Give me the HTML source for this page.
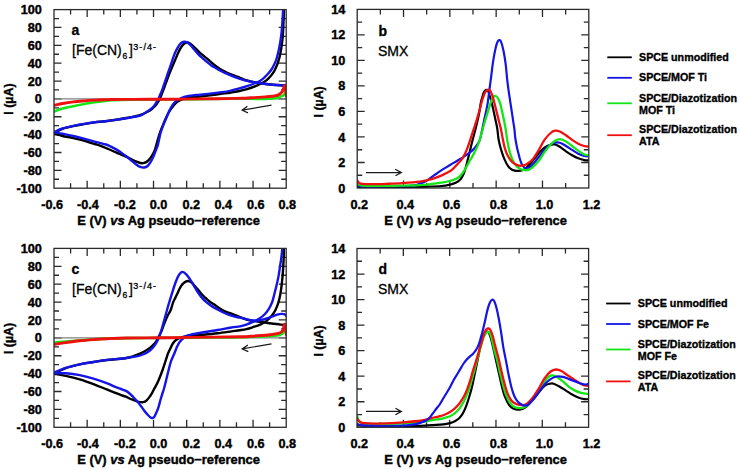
<!DOCTYPE html><html><head><meta charset="utf-8"><style>html,body{margin:0;padding:0;background:#fff;}svg{display:block;}</style></head><body>
<svg width="740" height="470" viewBox="0 0 740 470" style="font-family:'Liberation Sans', sans-serif">
<rect width="740" height="470" fill="#fff"/>
<defs>
<clipPath id="ca"><rect x="54" y="9.6" width="232.2" height="178.6"/></clipPath>
<clipPath id="cb"><rect x="357.2" y="9.4" width="231.6" height="178.6"/></clipPath>
<clipPath id="cc"><rect x="54" y="248.4" width="232.2" height="178.9"/></clipPath>
<clipPath id="cd"><rect x="357" y="248.5" width="231.6" height="178.8"/></clipPath>
</defs>
<path d="M70.59,188.2v-5M70.59,9.6v5M87.17,188.2v-7.5M87.17,9.6v7.5M103.76,188.2v-5M103.76,9.6v5M120.34,188.2v-7.5M120.34,9.6v7.5M136.93,188.2v-5M136.93,9.6v5M153.51,188.2v-7.5M153.51,9.6v7.5M170.1,188.2v-5M170.1,9.6v5M186.69,188.2v-7.5M186.69,9.6v7.5M203.27,188.2v-5M203.27,9.6v5M219.86,188.2v-7.5M219.86,9.6v7.5M236.44,188.2v-5M236.44,9.6v5M253.03,188.2v-7.5M253.03,9.6v7.5M269.61,188.2v-5M269.61,9.6v5M54,18.53h5M286.2,18.53h-5M54,27.46h7.5M286.2,27.46h-7.5M54,36.39h5M286.2,36.39h-5M54,45.32h7.5M286.2,45.32h-7.5M54,54.25h5M286.2,54.25h-5M54,63.18h7.5M286.2,63.18h-7.5M54,72.11h5M286.2,72.11h-5M54,81.04h7.5M286.2,81.04h-7.5M54,89.97h5M286.2,89.97h-5M54,98.9h7.5M286.2,98.9h-7.5M54,107.83h5M286.2,107.83h-5M54,116.76h7.5M286.2,116.76h-7.5M54,125.69h5M286.2,125.69h-5M54,134.62h7.5M286.2,134.62h-7.5M54,143.55h5M286.2,143.55h-5M54,152.48h7.5M286.2,152.48h-7.5M54,161.41h5M286.2,161.41h-5M54,170.34h7.5M286.2,170.34h-7.5M54,179.27h5M286.2,179.27h-5" stroke="#2a2a2a" stroke-width="1.3" fill="none"/>
<path d="M70.59,427.3v-5M70.59,248.4v5M87.17,427.3v-7.5M87.17,248.4v7.5M103.76,427.3v-5M103.76,248.4v5M120.34,427.3v-7.5M120.34,248.4v7.5M136.93,427.3v-5M136.93,248.4v5M153.51,427.3v-7.5M153.51,248.4v7.5M170.1,427.3v-5M170.1,248.4v5M186.69,427.3v-7.5M186.69,248.4v7.5M203.27,427.3v-5M203.27,248.4v5M219.86,427.3v-7.5M219.86,248.4v7.5M236.44,427.3v-5M236.44,248.4v5M253.03,427.3v-7.5M253.03,248.4v7.5M269.61,427.3v-5M269.61,248.4v5M54,257.35h5M286.2,257.35h-5M54,266.29h7.5M286.2,266.29h-7.5M54,275.24h5M286.2,275.24h-5M54,284.18h7.5M286.2,284.18h-7.5M54,293.12h5M286.2,293.12h-5M54,302.07h7.5M286.2,302.07h-7.5M54,311.01h5M286.2,311.01h-5M54,319.96h7.5M286.2,319.96h-7.5M54,328.91h5M286.2,328.91h-5M54,337.85h7.5M286.2,337.85h-7.5M54,346.8h5M286.2,346.8h-5M54,355.74h7.5M286.2,355.74h-7.5M54,364.69h5M286.2,364.69h-5M54,373.63h7.5M286.2,373.63h-7.5M54,382.58h5M286.2,382.58h-5M54,391.52h7.5M286.2,391.52h-7.5M54,400.47h5M286.2,400.47h-5M54,409.41h7.5M286.2,409.41h-7.5M54,418.36h5M286.2,418.36h-5" stroke="#2a2a2a" stroke-width="1.3" fill="none"/>
<path d="M380.36,188v-5M380.36,9.4v5M403.52,188v-7.5M403.52,9.4v7.5M426.68,188v-5M426.68,9.4v5M449.84,188v-7.5M449.84,9.4v7.5M473,188v-5M473,9.4v5M496.16,188v-7.5M496.16,9.4v7.5M519.32,188v-5M519.32,9.4v5M542.48,188v-7.5M542.48,9.4v7.5M565.64,188v-5M565.64,9.4v5M357.2,22.16h5M588.8,22.16h-5M357.2,34.91h7.5M588.8,34.91h-7.5M357.2,47.67h5M588.8,47.67h-5M357.2,60.43h7.5M588.8,60.43h-7.5M357.2,73.19h5M588.8,73.19h-5M357.2,85.94h7.5M588.8,85.94h-7.5M357.2,98.7h5M588.8,98.7h-5M357.2,111.46h7.5M588.8,111.46h-7.5M357.2,124.21h5M588.8,124.21h-5M357.2,136.97h7.5M588.8,136.97h-7.5M357.2,149.73h5M588.8,149.73h-5M357.2,162.49h7.5M588.8,162.49h-7.5M357.2,175.24h5M588.8,175.24h-5" stroke="#2a2a2a" stroke-width="1.3" fill="none"/>
<path d="M380.16,427.3v-5M380.16,248.5v5M403.32,427.3v-7.5M403.32,248.5v7.5M426.48,427.3v-5M426.48,248.5v5M449.64,427.3v-7.5M449.64,248.5v7.5M472.8,427.3v-5M472.8,248.5v5M495.96,427.3v-7.5M495.96,248.5v7.5M519.12,427.3v-5M519.12,248.5v5M542.28,427.3v-7.5M542.28,248.5v7.5M565.44,427.3v-5M565.44,248.5v5M357,261.27h5M588.6,261.27h-5M357,274.04h7.5M588.6,274.04h-7.5M357,286.81h5M588.6,286.81h-5M357,299.59h7.5M588.6,299.59h-7.5M357,312.36h5M588.6,312.36h-5M357,325.13h7.5M588.6,325.13h-7.5M357,337.9h5M588.6,337.9h-5M357,350.67h7.5M588.6,350.67h-7.5M357,363.44h5M588.6,363.44h-5M357,376.21h7.5M588.6,376.21h-7.5M357,388.99h5M588.6,388.99h-5M357,401.76h7.5M588.6,401.76h-7.5M357,414.53h5M588.6,414.53h-5" stroke="#2a2a2a" stroke-width="1.3" fill="none"/>
<line x1="54" y1="98.9" x2="286.2" y2="98.9" stroke="#808080" stroke-width="1.2"/>
<line x1="54" y1="337.85" x2="286.2" y2="337.85" stroke="#808080" stroke-width="1.2"/>
<g clip-path="url(#ca)" fill="none" stroke-width="2.4" stroke-linejoin="round" stroke-linecap="round">
<path d="M53,111.8C53.18,111.75 52.5,112.03 54.1,111.5C55.7,110.97 59.4,109.48 62.6,108.6C65.8,107.72 69.75,106.97 73.3,106.2C76.85,105.43 80.35,104.67 83.9,104C87.45,103.33 91.05,102.72 94.6,102.2C98.15,101.68 102.3,101.22 105.2,100.9C108.1,100.58 107.87,100.5 112,100.3C116.13,100.1 122,99.85 130,99.7C138,99.55 148.33,99.5 160,99.4C171.67,99.3 187.33,99.2 200,99.1C212.67,99 227.67,98.85 236,98.8C244.33,98.75 245.13,98.78 250,98.8C254.87,98.82 261.45,98.97 265.2,98.9C268.95,98.83 270.55,98.6 272.5,98.4C274.45,98.2 275.43,98.07 276.9,97.7C278.37,97.33 280.08,96.68 281.3,96.2C282.52,95.72 283.6,95.4 284.2,94.8C284.8,94.2 284.68,93.07 284.9,92.6C285.12,92.13 285.28,91.93 285.5,92C285.72,92.07 286.08,92.83 286.2,93" stroke="#14e614" stroke-width="2.6"/>
<path d="M54.1,132.8C55.52,132.13 59.4,129.92 62.6,128.8C65.8,127.68 69.75,126.88 73.3,126.1C76.85,125.32 80.35,124.72 83.9,124.1C87.45,123.48 91.05,122.88 94.6,122.4C98.15,121.92 101.63,121.65 105.2,121.2C108.77,120.75 112.53,120.23 116,119.7C119.47,119.17 122.9,118.57 126,118C129.1,117.43 131.93,116.92 134.6,116.3C137.27,115.68 139.85,115.05 142,114.3C144.15,113.55 145.9,112.65 147.5,111.8C149.1,110.95 150.38,110.12 151.6,109.2C152.82,108.28 153.82,107.37 154.8,106.3C155.78,105.23 156.7,103.98 157.5,102.8C158.3,101.62 158.95,100.5 159.6,99.2C160.25,97.9 160.8,96.47 161.4,95C162,93.53 162.58,92.03 163.2,90.4C163.82,88.77 164.43,87.02 165.1,85.2C165.77,83.38 166.48,81.45 167.2,79.5C167.92,77.55 168.67,75.38 169.4,73.5C170.13,71.62 170.88,69.9 171.6,68.2C172.32,66.5 172.98,64.98 173.7,63.3C174.42,61.62 175.17,59.82 175.9,58.1C176.63,56.38 177.37,54.58 178.1,53C178.83,51.42 179.55,49.9 180.3,48.6C181.05,47.3 181.85,46.1 182.6,45.2C183.35,44.3 184.07,43.65 184.8,43.2C185.53,42.75 186.23,42.53 187,42.5C187.77,42.47 188.5,42.52 189.4,43C190.3,43.48 191.33,44.47 192.4,45.4C193.47,46.33 194.7,47.53 195.8,48.6C196.9,49.67 197.88,50.75 199,51.8C200.12,52.85 201.3,53.88 202.5,54.9C203.7,55.92 204.73,56.67 206.2,57.9C207.67,59.13 209.6,60.88 211.3,62.3C213,63.72 214.95,65.3 216.4,66.4C217.85,67.5 218.6,68.03 220,68.9C221.4,69.77 223.3,70.83 224.8,71.6C226.3,72.37 227.3,72.8 229,73.5C230.7,74.2 233.17,75.08 235,75.8C236.83,76.52 238,77.02 240,77.8C242,78.58 244.42,79.72 247,80.5C249.58,81.28 252.67,81.95 255.5,82.5C258.33,83.05 261.15,83.43 264,83.8C266.85,84.17 269.77,84.45 272.6,84.7C275.43,84.95 278.85,85.17 281,85.3C283.15,85.43 284.75,85.47 285.5,85.5" stroke="#000000"/>
<path d="M284.3,0C284.25,1.68 284.13,6.43 284,10.1C283.87,13.77 283.72,17.52 283.5,22C283.28,26.48 283.07,32.67 282.7,37C282.33,41.33 281.78,44.83 281.3,48C280.82,51.17 280.38,53.5 279.8,56C279.22,58.5 278.52,60.92 277.8,63C277.08,65.08 276.33,66.77 275.5,68.5C274.67,70.23 274,71.72 272.8,73.4C271.6,75.08 269.77,77.17 268.3,78.6C266.83,80.03 265.25,81.17 264,82C262.75,82.83 262.22,82.9 260.8,83.6C259.38,84.3 257.8,85.27 255.5,86.2C253.2,87.13 249.83,88.35 247,89.2C244.17,90.05 241.33,90.72 238.5,91.3C235.67,91.88 232.37,92.35 230,92.7C227.63,93.05 227.27,93.02 224.3,93.4C221.33,93.78 216.25,94.48 212.2,95C208.15,95.52 203.7,96.08 200,96.5C196.3,96.92 192.67,97.17 190,97.5C187.33,97.83 185.75,98 184,98.5C182.25,99 180.92,99.67 179.5,100.5C178.08,101.33 176.83,102.2 175.5,103.5C174.17,104.8 172.68,106.72 171.5,108.3C170.32,109.88 169.43,111.13 168.4,113C167.37,114.87 166.27,117.33 165.3,119.5C164.33,121.67 163.5,123.75 162.6,126C161.7,128.25 160.77,130.5 159.9,133C159.03,135.5 158.28,138.07 157.4,141C156.52,143.93 155.63,147.97 154.6,150.6C153.57,153.23 152.35,155.07 151.2,156.8C150.05,158.53 148.87,159.98 147.7,161C146.53,162.02 145.23,162.53 144.2,162.9C143.17,163.27 142.65,163.35 141.5,163.2C140.35,163.05 138.92,162.6 137.3,162C135.68,161.4 133.87,160.57 131.8,159.6C129.73,158.63 127.43,157.35 124.9,156.2C122.37,155.05 119.37,153.9 116.6,152.7C113.83,151.5 111.07,150.18 108.3,149C105.53,147.82 102.28,146.43 100,145.6C97.72,144.77 97.28,144.82 94.6,144C91.92,143.18 87.45,141.68 83.9,140.7C80.35,139.72 76.85,138.88 73.3,138.1C69.75,137.32 65.8,136.72 62.6,136C59.4,135.28 55.52,134.17 54.1,133.8" stroke="#000000"/>
<path d="M54.1,132C55.52,131.42 59.4,129.52 62.6,128.5C65.8,127.48 69.75,126.67 73.3,125.9C76.85,125.13 80.35,124.5 83.9,123.9C87.45,123.3 91.05,122.75 94.6,122.3C98.15,121.85 101.63,121.6 105.2,121.2C108.77,120.8 112.53,120.38 116,119.9C119.47,119.42 122.92,118.82 126,118.3C129.08,117.78 131.92,117.33 134.5,116.8C137.08,116.27 139.33,116.02 141.5,115.1C143.67,114.18 145.88,112.37 147.5,111.3C149.12,110.23 150.08,109.63 151.2,108.7C152.32,107.77 153.33,106.77 154.2,105.7C155.07,104.63 155.72,103.42 156.4,102.3C157.08,101.18 157.68,100.23 158.3,99C158.92,97.77 159.48,96.33 160.1,94.9C160.72,93.47 161.38,92.02 162,90.4C162.62,88.78 163.17,87.02 163.8,85.2C164.43,83.38 165.13,81.45 165.8,79.5C166.47,77.55 167.17,75.37 167.8,73.5C168.43,71.63 169.02,70 169.6,68.3C170.18,66.6 170.7,65.08 171.3,63.3C171.9,61.52 172.52,59.47 173.2,57.6C173.88,55.73 174.65,53.75 175.4,52.1C176.15,50.45 176.95,49 177.7,47.7C178.45,46.4 179.17,45.18 179.9,44.3C180.63,43.42 181.35,42.82 182.1,42.4C182.85,41.98 183.65,41.85 184.4,41.8C185.15,41.75 185.87,41.82 186.6,42.1C187.33,42.38 188.05,42.9 188.8,43.5C189.55,44.1 190.35,44.88 191.1,45.7C191.85,46.52 192.48,47.42 193.3,48.4C194.12,49.38 195.1,50.57 196,51.6C196.9,52.63 197.85,53.72 198.7,54.6C199.55,55.48 199.85,55.78 201.1,56.9C202.35,58.02 204.5,59.88 206.2,61.3C207.9,62.72 209.6,64.22 211.3,65.4C213,66.58 214.95,67.55 216.4,68.4C217.85,69.25 218.6,69.75 220,70.5C221.4,71.25 223.13,72.13 224.8,72.9C226.47,73.67 227.72,74.2 230,75.1C232.28,76 235.67,77.33 238.5,78.3C241.33,79.27 244.17,80.18 247,80.9C249.83,81.62 252.67,82.12 255.5,82.6C258.33,83.08 261.15,83.45 264,83.8C266.85,84.15 269.77,84.45 272.6,84.7C275.43,84.95 278.85,85.17 281,85.3C283.15,85.43 284.75,85.47 285.5,85.5" stroke="#1414e6"/>
<path d="M283.4,0C283.35,1.68 283.27,6.43 283.1,10.1C282.93,13.77 282.68,18.03 282.4,22C282.12,25.97 281.83,30.07 281.4,33.9C280.97,37.73 280.32,41.98 279.8,45C279.28,48.02 278.85,49.67 278.3,52C277.75,54.33 277.18,56.92 276.5,59C275.82,61.08 275.03,62.75 274.2,64.5C273.37,66.25 272.53,67.95 271.5,69.5C270.47,71.05 269.25,72.42 268,73.8C266.75,75.18 265.37,76.62 264,77.8C262.63,78.98 261.22,80.03 259.8,80.9C258.38,81.77 257.63,82.12 255.5,83C253.37,83.88 249.83,85.25 247,86.2C244.17,87.15 241.33,87.93 238.5,88.7C235.67,89.47 232.37,90.27 230,90.8C227.63,91.33 227.27,91.47 224.3,91.9C221.33,92.33 216.25,92.93 212.2,93.4C208.15,93.87 203.27,94.37 200,94.7C196.73,95.03 194.9,95.12 192.6,95.4C190.3,95.68 187.98,95.98 186.2,96.4C184.42,96.82 183.15,97.37 181.9,97.9C180.65,98.43 179.72,99.02 178.7,99.6C177.68,100.18 176.78,100.57 175.8,101.4C174.82,102.23 173.8,103.2 172.8,104.6C171.8,106 170.93,107.45 169.8,109.8C168.67,112.15 167.08,116.15 166,118.7C164.92,121.25 164.2,122.78 163.3,125.1C162.4,127.42 161.27,130.37 160.6,132.6C159.93,134.83 159.75,136.47 159.3,138.5C158.85,140.53 158.47,142.85 157.9,144.8C157.33,146.75 156.68,148.17 155.9,150.2C155.12,152.23 154.12,154.97 153.2,157C152.28,159.03 151.32,160.9 150.4,162.4C149.48,163.9 148.72,165.15 147.7,166C146.68,166.85 145.55,167.35 144.3,167.5C143.05,167.65 141.55,167.4 140.2,166.9C138.85,166.4 137.55,165.47 136.2,164.5C134.85,163.53 133.47,162.25 132.1,161.1C130.73,159.95 129.2,158.57 128,157.6C126.8,156.63 126.8,156.63 124.9,155.3C123,153.97 119.37,151.27 116.6,149.6C113.83,147.93 110.55,146.27 108.3,145.3C106.05,144.33 105.38,144.42 103.1,143.8C100.82,143.18 97.8,142.47 94.6,141.6C91.4,140.73 87.45,139.53 83.9,138.6C80.35,137.67 76.85,136.8 73.3,136C69.75,135.2 65.8,134.43 62.6,133.8C59.4,133.17 55.52,132.47 54.1,132.2" stroke="#1414e6"/>
<path d="M53,105.5C53.18,105.47 52.5,105.63 54.1,105.3C55.7,104.97 59.4,104.07 62.6,103.5C65.8,102.93 69.75,102.33 73.3,101.9C76.85,101.47 80.35,101.2 83.9,100.9C87.45,100.6 91.05,100.3 94.6,100.1C98.15,99.9 102.3,99.8 105.2,99.7C108.1,99.6 107.87,99.55 112,99.5C116.13,99.45 123.67,99.43 130,99.4C136.33,99.37 142.5,99.33 150,99.3C157.5,99.27 166.67,99.27 175,99.2C183.33,99.13 189.83,99.03 200,98.9C210.17,98.77 228.78,98.52 236,98.4C243.22,98.28 240.87,98.3 243.3,98.2C245.73,98.1 248.17,97.93 250.6,97.8C253.03,97.67 255.47,97.55 257.9,97.4C260.33,97.25 262.77,97.1 265.2,96.9C267.63,96.7 270.55,96.43 272.5,96.2C274.45,95.97 275.68,95.87 276.9,95.5C278.12,95.13 278.95,94.62 279.8,94C280.65,93.38 281.4,92.65 282,91.8C282.6,90.95 282.98,89.93 283.4,88.9C283.82,87.87 284.22,86.15 284.5,85.6C284.78,85.05 284.9,84.9 285.1,85.6C285.3,86.3 285.52,88.4 285.7,89.8C285.88,91.2 286.08,92.97 286.2,94C286.32,95.03 286.37,95.67 286.4,96" stroke="#f01010" stroke-width="2.9"/>
</g>
<g clip-path="url(#cc)" fill="none" stroke-width="2.4" stroke-linejoin="round" stroke-linecap="round">
<path d="M53,342.8C53.18,342.77 51.97,342.8 54.1,342.6C56.23,342.4 61.53,341.95 65.8,341.6C70.07,341.25 75.08,340.87 79.7,340.5C84.32,340.13 88.9,339.72 93.5,339.4C98.1,339.08 101.72,338.82 107.3,338.6C112.88,338.38 118.22,338.22 127,338.1C135.78,337.98 149.5,337.98 160,337.9C170.5,337.82 176.67,337.72 190,337.6C203.33,337.48 226.35,337.48 240,337.2C253.65,336.92 265.17,336.3 271.9,335.9C278.63,335.5 278.45,335.35 280.4,334.8C282.35,334.25 282.88,333.33 283.6,332.6C284.32,331.87 284.38,330.85 284.7,330.4C285.02,329.95 285.23,329.63 285.5,329.9C285.77,330.17 286.17,331.65 286.3,332" stroke="#14e614" stroke-width="2.6"/>
<path d="M54.1,373.6C56.05,372.68 61.53,369.63 65.8,368.1C70.07,366.57 75.08,365.42 79.7,364.4C84.32,363.38 88.9,362.73 93.5,362C98.1,361.27 102.05,360.63 107.3,360C112.55,359.37 120.55,358.87 125,358.2C129.45,357.53 131.5,356.77 134,356C136.5,355.23 137.93,354.57 140,353.6C142.07,352.63 144.45,351.38 146.4,350.2C148.35,349.02 150.1,347.92 151.7,346.5C153.3,345.08 154.85,343.3 156,341.7C157.15,340.1 157.72,338.58 158.6,336.9C159.48,335.22 160.32,333.9 161.3,331.6C162.28,329.3 163.43,325.77 164.5,323.1C165.57,320.43 166.67,317.78 167.7,315.6C168.73,313.42 169.8,312.2 170.7,310C171.6,307.8 172.3,304.48 173.1,302.4C173.9,300.32 174.77,299.02 175.5,297.5C176.23,295.98 176.87,294.67 177.5,293.3C178.13,291.93 178.68,290.53 179.3,289.3C179.92,288.07 180.58,286.85 181.2,285.9C181.82,284.95 182.38,284.23 183,283.6C183.62,282.97 184.08,282.53 184.9,282.1C185.72,281.67 187.03,281.08 187.9,281C188.77,280.92 189.38,281.27 190.1,281.6C190.82,281.93 191.45,282.3 192.2,283C192.95,283.7 193.78,284.87 194.6,285.8C195.42,286.73 196.25,287.62 197.1,288.6C197.95,289.58 198.85,290.67 199.7,291.7C200.55,292.73 201.35,293.87 202.2,294.8C203.05,295.73 203.95,296.5 204.8,297.3C205.65,298.1 206.45,298.87 207.3,299.6C208.15,300.33 209.05,301.05 209.9,301.7C210.75,302.35 211.55,302.95 212.4,303.5C213.25,304.05 213.98,304.32 215,305C216.02,305.68 216.92,306.57 218.5,307.6C220.08,308.63 222.35,310.18 224.5,311.2C226.65,312.22 228.82,312.7 231.4,313.7C233.98,314.7 237.5,316.23 240,317.2C242.5,318.17 244.27,318.88 246.4,319.5C248.53,320.12 250.32,320.5 252.8,320.9C255.28,321.3 258.82,321.55 261.3,321.9C263.78,322.25 265.58,322.68 267.7,323C269.82,323.32 271.88,323.53 274,323.8C276.12,324.07 278.45,324.42 280.4,324.6C282.35,324.78 284.6,324.83 285.7,324.9C286.8,324.97 286.78,324.98 287,325" stroke="#000000"/>
<path d="M284.1,240C284.07,241.4 283.97,245.43 283.9,248.4C283.83,251.37 283.82,254.65 283.7,257.8C283.58,260.95 283.4,264.12 283.2,267.3C283,270.48 282.77,273.88 282.5,276.9C282.23,279.92 281.85,283.22 281.6,285.4C281.35,287.58 281.28,288.17 281,290C280.72,291.83 280.35,294.27 279.9,296.4C279.45,298.53 279.02,300.58 278.3,302.8C277.58,305.02 276.67,307.58 275.6,309.7C274.53,311.82 273.4,313.63 271.9,315.5C270.4,317.37 268.55,319.38 266.6,320.9C264.65,322.42 262.5,323.55 260.2,324.6C257.9,325.65 255.1,326.45 252.8,327.2C250.5,327.95 248.53,328.6 246.4,329.1C244.27,329.6 242.5,329.82 240,330.2C237.5,330.58 235.13,330.88 231.4,331.4C227.67,331.92 222.2,332.75 217.6,333.3C213,333.85 208.4,334.28 203.8,334.7C199.2,335.12 193.02,335.52 190,335.8C186.98,336.08 187.12,336.13 185.7,336.4C184.28,336.67 183,336.87 181.5,337.4C180,337.93 178.12,338.62 176.7,339.6C175.28,340.58 174.08,341.77 173,343.3C171.92,344.83 171.03,347.1 170.2,348.8C169.37,350.5 168.7,351.7 168,353.5C167.3,355.3 166.93,356.77 166,359.6C165.07,362.43 163.65,367.02 162.4,370.5C161.15,373.98 159.52,378.08 158.5,380.5C157.48,382.92 157.02,383.62 156.3,385C155.58,386.38 154.92,387.45 154.2,388.8C153.48,390.15 152.83,391.67 152,393.1C151.17,394.53 150.15,396.13 149.2,397.4C148.25,398.67 147.27,399.92 146.3,400.7C145.33,401.48 144.37,401.87 143.4,402.1C142.43,402.33 141.58,402.22 140.5,402.1C139.42,401.98 138.12,401.77 136.9,401.4C135.68,401.03 134.42,400.38 133.2,399.9C131.98,399.42 130.8,399.03 129.6,398.5C128.4,397.97 127.4,397.25 126,396.7C124.6,396.15 124.32,396.37 121.2,395.2C118.08,394.03 111.92,391.55 107.3,389.7C102.68,387.85 98.1,385.83 93.5,384.1C88.9,382.37 84.32,380.68 79.7,379.3C75.08,377.92 70.07,376.73 65.8,375.8C61.53,374.87 56.05,374.05 54.1,373.7" stroke="#000000"/>
<path d="M54.1,372.6C56.05,371.82 61.53,369.28 65.8,367.9C70.07,366.52 75.08,365.28 79.7,364.3C84.32,363.32 88.9,362.73 93.5,362C98.1,361.27 102.05,360.52 107.3,359.9C112.55,359.28 119.92,358.92 125,358.3C130.08,357.68 134.58,356.93 137.8,356.2C141.02,355.47 142.33,354.82 144.3,353.9C146.27,352.98 148.02,351.93 149.6,350.7C151.18,349.47 152.57,348 153.8,346.5C155.03,345 156.12,343.3 157,341.7C157.88,340.1 158.38,338.77 159.1,336.9C159.82,335.03 160.58,332.8 161.3,330.5C162.02,328.2 162.7,325.58 163.4,323.1C164.1,320.62 164.9,317.78 165.5,315.6C166.1,313.42 166.38,312.2 167,310C167.62,307.8 168.43,304.95 169.2,302.4C169.97,299.85 170.8,297.27 171.6,294.7C172.4,292.13 173.2,289.4 174,287C174.8,284.6 175.6,282.28 176.4,280.3C177.2,278.32 178,276.43 178.8,275.1C179.6,273.77 180.6,272.83 181.2,272.3C181.8,271.77 182,271.92 182.4,271.9C182.8,271.88 183,271.83 183.6,272.2C184.2,272.57 185.2,273.3 186,274.1C186.8,274.9 187.52,275.8 188.4,277C189.28,278.2 190.35,279.78 191.3,281.3C192.25,282.82 192.93,284.15 194.1,286.1C195.27,288.05 196.68,290.7 198.3,293C199.92,295.3 201.73,297.83 203.8,299.9C205.87,301.97 208.4,303.8 210.7,305.4C213,307 215.3,308.23 217.6,309.5C219.9,310.77 222.2,311.97 224.5,313C226.8,314.03 228.82,314.92 231.4,315.7C233.98,316.48 237.68,317.17 240,317.7C242.32,318.23 243.53,318.5 245.3,318.9C247.07,319.3 248.82,319.82 250.6,320.1C252.38,320.38 254.22,320.62 256,320.6C257.78,320.58 259.53,320.35 261.3,320C263.07,319.65 264.83,319.07 266.6,318.5C268.37,317.93 270.13,317.23 271.9,316.6C273.67,315.97 275.6,315.15 277.2,314.7C278.8,314.25 280.25,313.97 281.5,313.9C282.75,313.83 283.95,314.03 284.7,314.3C285.45,314.57 285.62,315.05 286,315.5C286.38,315.95 286.83,316.75 287,317" stroke="#1414e6"/>
<path d="M282.5,240C282.47,241.4 282.5,245.43 282.3,248.4C282.1,251.37 281.7,254.65 281.3,257.8C280.9,260.95 280.38,264.12 279.9,267.3C279.42,270.48 278.97,273.88 278.4,276.9C277.83,279.92 277.07,282.97 276.5,285.4C275.93,287.83 275.5,289.48 275,291.5C274.5,293.52 274.02,295.62 273.5,297.5C272.98,299.38 272.7,300.87 271.9,302.8C271.1,304.73 269.93,307.15 268.7,309.1C267.47,311.05 266.1,312.9 264.5,314.5C262.9,316.1 261.05,317.47 259.1,318.7C257.15,319.93 254.92,320.92 252.8,321.9C250.68,322.88 248.53,323.85 246.4,324.6C244.27,325.35 242.5,325.92 240,326.4C237.5,326.88 235.13,326.9 231.4,327.5C227.67,328.1 222.2,329.2 217.6,330C213,330.8 208.4,331.48 203.8,332.3C199.2,333.12 192.83,334.3 190,334.9C187.17,335.5 187.87,335.38 186.8,335.9C185.73,336.42 184.75,337.03 183.6,338C182.45,338.97 180.93,340.37 179.9,341.7C178.87,343.03 178.13,344.53 177.4,346C176.67,347.47 176.12,349 175.5,350.5C174.88,352 174.53,352.95 173.7,355C172.87,357.05 171.57,359.38 170.5,362.8C169.43,366.22 168.37,371.25 167.3,375.5C166.23,379.75 164.95,385.18 164.1,388.3C163.25,391.42 162.83,392.17 162.2,394.2C161.57,396.23 160.9,398.4 160.3,400.5C159.7,402.6 159.25,404.78 158.6,406.8C157.95,408.82 157.13,410.92 156.4,412.6C155.67,414.28 154.9,416 154.2,416.9C153.5,417.8 152.8,417.88 152.2,418C151.6,418.12 151.35,418.13 150.6,417.6C149.85,417.07 148.78,416 147.7,414.8C146.62,413.6 145.3,411.97 144.1,410.4C142.9,408.83 141.7,406.97 140.5,405.4C139.3,403.83 138.12,402.4 136.9,401C135.68,399.6 134.42,398.25 133.2,397C131.98,395.75 130.8,394.52 129.6,393.5C128.4,392.48 127.43,391.65 126,390.9C124.57,390.15 122.7,389.62 121,389C119.3,388.38 118.08,388.13 115.8,387.2C113.52,386.27 111.02,384.83 107.3,383.4C103.58,381.97 98.1,379.98 93.5,378.6C88.9,377.22 84.32,375.98 79.7,375.1C75.08,374.22 70.07,373.6 65.8,373.3C61.53,373 56.05,373.3 54.1,373.3" stroke="#1414e6"/>
<path d="M53,344.6C53.18,344.57 51.97,344.73 54.1,344.4C56.23,344.07 61.53,343.2 65.8,342.6C70.07,342 75.08,341.3 79.7,340.8C84.32,340.3 88.9,339.95 93.5,339.6C98.1,339.25 101.72,338.97 107.3,338.7C112.88,338.43 118.22,338.15 127,338C135.78,337.85 149.5,337.9 160,337.8C170.5,337.7 176.67,337.58 190,337.4C203.33,337.22 229.9,336.88 240,336.7C250.1,336.52 247.05,336.5 250.6,336.3C254.15,336.1 257.75,335.8 261.3,335.5C264.85,335.2 269.07,334.85 271.9,334.5C274.73,334.15 276.7,333.82 278.3,333.4C279.9,332.98 280.7,332.67 281.5,332C282.3,331.33 282.72,330.28 283.1,329.4C283.48,328.52 283.57,327.57 283.8,326.7C284.03,325.83 284.27,324.28 284.5,324.2C284.73,324.12 285,325.17 285.2,326.2C285.4,327.23 285.52,329.17 285.7,330.4C285.88,331.63 286.17,332.83 286.3,333.6C286.43,334.37 286.47,334.77 286.5,335" stroke="#f01010" stroke-width="2.9"/>
</g>
<g clip-path="url(#cb)" fill="none" stroke-width="2.4" stroke-linejoin="round" stroke-linecap="round">
<path d="M357.2,187.2C358.02,187.27 359.28,187.55 362.1,187.6C364.92,187.65 365.72,187.55 374.1,187.5C382.48,187.45 404.75,187.4 412.4,187.3C420.05,187.2 415.18,187.12 420,186.9C424.82,186.68 436.33,186.37 441.3,186C446.27,185.63 447.32,185.27 449.8,184.7C452.28,184.13 454.43,183.48 456.2,182.6C457.97,181.72 459.17,180.83 460.4,179.4C461.63,177.97 462.72,175.95 463.6,174C464.48,172.05 464.98,170.18 465.7,167.7C466.42,165.22 467.18,161.95 467.9,159.1C468.62,156.25 469.3,153.43 470,150.6C470.7,147.77 471.4,144.87 472.1,142.1C472.8,139.33 473.53,136.55 474.2,134C474.87,131.45 475.42,129.6 476.1,126.8C476.78,124 477.68,120.08 478.3,117.2C478.92,114.32 479.4,111.78 479.8,109.5C480.2,107.22 480.4,105.17 480.7,103.5C481,101.83 481.28,100.75 481.6,99.5C481.92,98.25 482.27,97.08 482.6,96C482.93,94.92 483.22,93.88 483.6,93C483.98,92.12 484.43,91.22 484.9,90.7C485.37,90.18 485.88,89.9 486.4,89.9C486.92,89.9 487.47,89.77 488,90.7C488.53,91.63 489.15,94.13 489.6,95.5C490.05,96.87 490.37,97.77 490.7,98.9C491.03,100.03 491.2,100.67 491.6,102.3C492,103.93 492.58,106.38 493.1,108.7C493.62,111.02 494.17,113.72 494.7,116.2C495.23,118.68 495.85,121.38 496.3,123.6C496.75,125.82 497,126.77 497.4,129.5C497.8,132.23 498.05,136.52 498.7,140C499.35,143.48 500.33,147.17 501.3,150.4C502.27,153.63 503.33,156.73 504.5,159.4C505.67,162.07 507.03,164.67 508.3,166.4C509.57,168.13 510.82,169.05 512.1,169.8C513.38,170.55 514.6,170.77 516,170.9C517.4,171.03 519.02,170.88 520.5,170.6C521.98,170.32 523.65,169.97 524.9,169.2C526.15,168.43 526.77,167.3 528,166C529.23,164.7 530.57,163.45 532.3,161.4C534.03,159.35 536.37,156 538.4,153.7C540.43,151.4 542.47,149.08 544.5,147.6C546.53,146.12 548.82,145.32 550.6,144.8C552.38,144.28 553.67,144.17 555.2,144.5C556.73,144.83 558,145.65 559.8,146.8C561.6,147.95 563.95,150 566,151.4C568.05,152.8 570.07,154.05 572.1,155.2C574.13,156.35 576.17,157.48 578.2,158.3C580.23,159.12 582.5,159.77 584.3,160.1C586.1,160.43 588.22,160.27 589,160.3" stroke="#000000" stroke-width="2.2"/>
<path d="M357.2,185.1C357.75,185.32 358.33,186.12 360.5,186.4C362.67,186.68 366.33,186.77 370.2,186.8C374.07,186.83 376.67,186.78 383.7,186.6C390.73,186.42 406.35,186.2 412.4,185.7C418.45,185.2 417.85,184.3 420,183.6C422.15,182.9 423.53,182.47 425.3,181.5C427.07,180.53 428.82,179.05 430.6,177.8C432.38,176.55 434.22,175.25 436,174C437.78,172.75 439.53,171.45 441.3,170.3C443.07,169.15 444.83,168.17 446.6,167.1C448.37,166.03 450.13,164.97 451.9,163.9C453.67,162.83 455.42,161.75 457.2,160.7C458.98,159.65 460.82,158.75 462.6,157.6C464.38,156.45 466.13,155.13 467.9,153.8C469.67,152.47 471.62,151.18 473.2,149.6C474.78,148.02 476.27,145.98 477.4,144.3C478.53,142.62 479.23,141.8 480,139.5C480.77,137.2 481.32,133.68 482,130.5C482.68,127.32 483.4,123.67 484.1,120.4C484.8,117.13 485.58,113.92 486.2,110.9C486.82,107.88 487.35,105.15 487.8,102.3C488.25,99.45 488.53,96.63 488.9,93.8C489.27,90.97 489.65,87.93 490,85.3C490.35,82.67 490.47,82.07 491,78C491.53,73.93 492.4,66.02 493.2,60.9C494,55.78 495.03,50.57 495.8,47.3C496.57,44.03 497.23,42.5 497.8,41.3C498.37,40.1 498.68,40.1 499.2,40.1C499.72,40.1 500.18,39.53 500.9,41.3C501.62,43.07 502.7,46.87 503.5,50.7C504.3,54.53 505.08,59.47 505.7,64.3C506.32,69.13 506.72,75.32 507.2,79.7C507.68,84.08 508.1,87 508.6,90.6C509.1,94.2 509.67,97.75 510.2,101.3C510.73,104.85 511.27,108.35 511.8,111.9C512.33,115.45 512.97,119.75 513.4,122.6C513.83,125.45 514.08,126.43 514.4,129C514.72,131.57 514.87,134.92 515.3,138C515.73,141.08 516.52,145.08 517,147.5C517.48,149.92 517.78,150.83 518.2,152.5C518.62,154.17 519.02,155.82 519.5,157.5C519.98,159.18 520.45,161.08 521.1,162.6C521.75,164.12 522.58,165.65 523.4,166.6C524.22,167.55 525.03,168.15 526,168.3C526.97,168.45 527.65,168.65 529.2,167.5C530.75,166.35 533.27,163.7 535.3,161.4C537.33,159.1 539.35,156.13 541.4,153.7C543.45,151.27 545.55,148.58 547.6,146.8C549.65,145.02 551.67,143.68 553.7,143C555.73,142.32 557.75,142.2 559.8,142.7C561.85,143.2 563.95,144.8 566,146C568.05,147.2 570.07,148.62 572.1,149.9C574.13,151.18 576.17,152.68 578.2,153.7C580.23,154.72 582.5,155.53 584.3,156C586.1,156.47 588.22,156.42 589,156.5" stroke="#1414e6" stroke-width="2.2"/>
<path d="M357.2,183.5C357.75,183.77 359,184.72 360.5,185.1C362,185.48 360.73,185.68 366.2,185.8C371.67,185.92 384.33,185.9 393.3,185.8C402.27,185.7 413.78,185.48 420,185.2C426.22,184.92 427.05,184.53 430.6,184.1C434.15,183.67 438.1,183.12 441.3,182.6C444.5,182.08 447.32,181.63 449.8,181C452.28,180.37 454.43,179.7 456.2,178.8C457.97,177.9 458.98,177.1 460.4,175.6C461.82,174.1 463.28,172.02 464.7,169.8C466.12,167.58 467.48,164.78 468.9,162.3C470.32,159.82 471.78,157.55 473.2,154.9C474.62,152.25 476.33,148.88 477.4,146.4C478.47,143.92 478.75,142.73 479.6,140C480.45,137.27 481.57,133.27 482.5,130C483.43,126.73 484.22,123.77 485.2,120.4C486.18,117.03 487.33,113.17 488.4,109.8C489.47,106.43 490.72,102.4 491.6,100.2C492.48,98 493,97.3 493.7,96.6C494.4,95.9 495.1,95.75 495.8,96C496.5,96.25 497.18,96.87 497.9,98.1C498.62,99.33 499.47,101.45 500.1,103.4C500.73,105.35 501.17,107.5 501.7,109.8C502.23,112.1 502.77,114.72 503.3,117.2C503.83,119.68 504.48,122.53 504.9,124.7C505.32,126.87 505.4,127.57 505.8,130.2C506.2,132.83 506.72,137.13 507.3,140.5C507.88,143.87 508.5,147.32 509.3,150.4C510.1,153.48 510.98,156.48 512.1,159C513.22,161.52 514.62,163.85 516,165.5C517.38,167.15 518.9,168.12 520.4,168.9C521.9,169.68 523.57,170.07 525,170.2C526.43,170.33 527.78,170.15 529,169.7C530.22,169.25 530.73,168.88 532.3,167.5C533.87,166.12 536.37,163.95 538.4,161.4C540.43,158.85 542.47,155.02 544.5,152.2C546.53,149.38 548.82,146.42 550.6,144.5C552.38,142.58 553.67,141.6 555.2,140.7C556.73,139.8 558,138.98 559.8,139.1C561.6,139.22 563.95,140.25 566,141.4C568.05,142.55 570.07,144.47 572.1,146C574.13,147.53 576.17,149.18 578.2,150.6C580.23,152.02 582.5,153.68 584.3,154.5C586.1,155.32 588.22,155.33 589,155.5" stroke="#14e614" stroke-width="2.3"/>
<path d="M357.2,180.3C357.48,180.7 358.08,182.1 358.9,182.7C359.72,183.3 360.22,183.65 362.1,183.9C363.98,184.15 366.15,184.22 370.2,184.2C374.25,184.18 380.98,183.98 386.4,183.8C391.82,183.62 397.1,183.47 402.7,183.1C408.3,182.73 415.35,182.22 420,181.6C424.65,180.98 427.05,180.4 430.6,179.4C434.15,178.4 438.63,176.68 441.3,175.6C443.97,174.52 444.83,173.87 446.6,172.9C448.37,171.93 450.13,171.2 451.9,169.8C453.67,168.4 455.42,166.45 457.2,164.5C458.98,162.55 461,160.58 462.6,158.1C464.2,155.62 465.57,152.53 466.8,149.6C468.03,146.67 469.07,143.27 470,140.5C470.93,137.73 471.65,135.28 472.4,133C473.15,130.72 473.7,129.25 474.5,126.8C475.3,124.35 476.3,121.32 477.2,118.3C478.1,115.28 479.02,111.9 479.9,108.7C480.78,105.5 481.62,101.85 482.5,99.1C483.38,96.35 484.32,93.75 485.2,92.2C486.08,90.65 487,90.07 487.8,89.8C488.6,89.53 489.28,89.75 490,90.6C490.72,91.45 491.48,93.3 492.1,94.9C492.72,96.5 493.17,98.25 493.7,100.2C494.23,102.15 494.77,104.47 495.3,106.6C495.83,108.73 496.37,110.87 496.9,113C497.43,115.13 497.97,117.28 498.5,119.4C499.03,121.52 499.67,123.93 500.1,125.7C500.53,127.47 500.65,127.78 501.1,130C501.55,132.22 502.13,135.82 502.8,139C503.47,142.18 504.18,146.13 505.1,149.1C506.02,152.07 507.13,154.67 508.3,156.8C509.47,158.93 510.62,160.52 512.1,161.9C513.58,163.28 515.63,164.47 517.2,165.1C518.77,165.73 520.02,165.82 521.5,165.7C522.98,165.58 524.3,165.38 526.1,164.4C527.9,163.42 530.25,162.1 532.3,159.8C534.35,157.5 536.37,153.92 538.4,150.6C540.43,147.28 542.47,142.83 544.5,139.9C546.53,136.97 548.82,134.53 550.6,133C552.38,131.47 553.67,130.95 555.2,130.7C556.73,130.45 558,130.73 559.8,131.5C561.6,132.27 563.95,133.9 566,135.3C568.05,136.7 570.07,138.5 572.1,139.9C574.13,141.3 576.17,142.68 578.2,143.7C580.23,144.72 582.5,145.48 584.3,146C586.1,146.52 588.22,146.67 589,146.8" stroke="#f01010" stroke-width="2.3"/>
</g>
<g clip-path="url(#cd)" fill="none" stroke-width="2.4" stroke-linejoin="round" stroke-linecap="round">
<path d="M357.2,425.4C362.92,425.57 381.73,426.3 391.5,426.4C401.27,426.5 409.72,426.17 415.8,426C421.88,425.83 423.97,425.62 428,425.4C432.03,425.18 437.17,424.9 440,424.7C442.83,424.5 443.33,424.47 445,424.2C446.67,423.93 448.35,423.6 450,423.1C451.65,422.6 453.47,421.92 454.9,421.2C456.33,420.48 457.47,419.82 458.6,418.8C459.73,417.78 460.77,416.45 461.7,415.1C462.63,413.75 463.37,412.45 464.2,410.7C465.03,408.95 465.88,406.85 466.7,404.6C467.52,402.35 468.28,399.88 469.1,397.2C469.92,394.52 470.87,391.38 471.6,388.5C472.33,385.62 472.88,382.78 473.5,379.9C474.12,377.02 474.68,374.18 475.3,371.2C475.92,368.22 476.58,365.03 477.2,362C477.82,358.97 478.37,356.08 479,353C479.63,349.92 480.33,346.25 481,343.5C481.67,340.75 482.33,338.33 483,336.5C483.67,334.67 484.37,333.37 485,332.5C485.63,331.63 486.2,331.3 486.8,331.3C487.4,331.3 487.98,331.55 488.6,332.5C489.22,333.45 489.9,335.17 490.5,337C491.1,338.83 491.65,341.25 492.2,343.5C492.75,345.75 493.22,347.93 493.8,350.5C494.38,353.07 494.88,355.27 495.7,358.9C496.52,362.53 497.7,367.83 498.7,372.3C499.7,376.77 500.7,381.72 501.7,385.7C502.7,389.68 503.45,392.97 504.7,396.2C505.95,399.43 507.72,403 509.2,405.1C510.68,407.2 511.87,408.05 513.6,408.8C515.33,409.55 517.87,409.68 519.6,409.6C521.33,409.52 522.68,408.93 524,408.3C525.32,407.67 526.12,407.08 527.5,405.8C528.88,404.52 530.48,402.75 532.3,400.6C534.12,398.45 536.37,395.33 538.4,392.9C540.43,390.47 542.58,387.53 544.5,386C546.42,384.47 548.37,384.08 549.9,383.7C551.43,383.32 552.05,383.18 553.7,383.7C555.35,384.22 557.75,385.65 559.8,386.8C561.85,387.95 563.95,389.32 566,390.6C568.05,391.88 570.07,393.35 572.1,394.5C574.13,395.65 576.17,396.73 578.2,397.5C580.23,398.27 582.5,398.82 584.3,399.1C586.1,399.38 588.22,399.18 589,399.2" stroke="#000000" stroke-width="2.2"/>
<path d="M357.2,416.3C357.65,417.28 358.23,420.95 359.9,422.2C361.57,423.45 361.93,423.53 367.2,423.8C372.47,424.07 383.4,424.02 391.5,423.8C399.6,423.58 408.72,423.15 415.8,422.5C422.88,421.85 429.97,420.48 434,419.9C438.03,419.32 438.17,419.35 440,419C441.83,418.65 443.33,418.25 445,417.8C446.67,417.35 448.35,417.07 450,416.3C451.65,415.53 453.47,414.33 454.9,413.2C456.33,412.07 457.47,410.83 458.6,409.5C459.73,408.17 460.67,406.85 461.7,405.2C462.73,403.55 463.77,401.77 464.8,399.6C465.83,397.43 466.97,394.67 467.9,392.2C468.83,389.73 469.58,387.47 470.4,384.8C471.22,382.13 472.08,378.75 472.8,376.2C473.52,373.65 474.08,371.78 474.7,369.5C475.32,367.22 475.87,364.92 476.5,362.5C477.13,360.08 477.77,357.72 478.5,355C479.23,352.28 480.07,349.12 480.9,346.2C481.73,343.28 482.65,339.7 483.5,337.5C484.35,335.3 485.25,333.95 486,333C486.75,332.05 487.37,331.77 488,331.8C488.63,331.83 489.22,332.22 489.8,333.2C490.38,334.18 490.88,335.47 491.5,337.7C492.12,339.93 492.88,343.97 493.5,346.6C494.12,349.23 494.58,351.2 495.2,353.5C495.82,355.8 496.37,357.02 497.2,360.4C498.03,363.78 499.2,369.58 500.2,373.8C501.2,378.02 502.2,382.1 503.2,385.7C504.2,389.3 504.97,392.42 506.2,395.4C507.43,398.38 509.12,401.62 510.6,403.6C512.08,405.58 513.35,406.55 515.1,407.3C516.85,408.05 519.37,408.23 521.1,408.1C522.83,407.97 524.18,407.27 525.5,406.5C526.82,405.73 527.87,404.62 529,403.5C530.13,402.38 530.73,401.95 532.3,399.8C533.87,397.65 536.37,393.67 538.4,390.6C540.43,387.53 542.72,383.75 544.5,381.4C546.28,379.05 547.7,377.52 549.1,376.5C550.5,375.48 551.62,375.23 552.9,375.3C554.18,375.37 555.13,375.88 556.8,376.9C558.47,377.92 560.87,379.75 562.9,381.4C564.93,383.05 566.97,385.27 569,386.8C571.03,388.33 573.05,389.58 575.1,390.6C577.15,391.62 578.98,392.33 581.3,392.9C583.62,393.47 587.72,393.82 589,394" stroke="#14e614" stroke-width="2.3"/>
<path d="M357.2,418.8C357.58,419.25 358.65,420.8 359.5,421.5C360.35,422.2 360.55,422.67 362.3,423C364.05,423.33 367.17,423.4 370,423.5C372.83,423.6 373.7,423.8 379.3,423.6C384.9,423.4 396.5,422.82 403.6,422.3C410.7,421.78 416.83,421.3 421.9,420.5C426.97,419.7 430.98,418.22 434,417.5C437.02,416.78 438.17,416.7 440,416.2C441.83,415.7 443.33,415.2 445,414.5C446.67,413.8 448.35,413.03 450,412C451.65,410.97 453.47,409.53 454.9,408.3C456.33,407.07 457.47,405.95 458.6,404.6C459.73,403.25 460.67,401.85 461.7,400.2C462.73,398.55 463.77,396.85 464.8,394.7C465.83,392.55 466.97,389.77 467.9,387.3C468.83,384.83 469.57,382.63 470.4,379.9C471.23,377.17 471.95,374.07 472.9,370.9C473.85,367.73 475.03,364.35 476.1,360.9C477.17,357.45 478.25,353.75 479.3,350.2C480.35,346.65 481.52,342.58 482.4,339.6C483.28,336.62 483.9,334.07 484.6,332.3C485.3,330.53 485.93,329.65 486.6,329C487.27,328.35 487.95,328.2 488.6,328.4C489.25,328.6 489.8,328.9 490.5,330.2C491.2,331.5 492.05,333.72 492.8,336.2C493.55,338.68 494.35,342.55 495,345.1C495.65,347.65 496.08,349.2 496.7,351.5C497.32,353.8 497.87,355.43 498.7,358.9C499.53,362.37 500.7,368.07 501.7,372.3C502.7,376.53 503.7,380.7 504.7,384.3C505.7,387.9 506.47,391.05 507.7,393.9C508.93,396.75 510.5,399.65 512.1,401.4C513.7,403.15 515.55,403.78 517.3,404.4C519.05,405.02 520.98,405.23 522.6,405.1C524.22,404.97 525.38,404.73 527,403.6C528.62,402.47 530.4,400.72 532.3,398.3C534.2,395.88 536.37,392.42 538.4,389.1C540.43,385.78 542.47,381.33 544.5,378.4C546.53,375.47 548.68,372.98 550.6,371.5C552.52,370.02 554.2,369.58 556,369.5C557.8,369.42 559.48,370.03 561.4,371C563.32,371.97 565.47,373.95 567.5,375.3C569.53,376.65 571.57,377.82 573.6,379.1C575.63,380.38 577.92,381.97 579.7,383C581.48,384.03 582.75,384.8 584.3,385.3C585.85,385.8 588.22,385.88 589,386" stroke="#f01010" stroke-width="2.3"/>
<path d="M357.2,423.8C358.05,424.07 358.62,425.03 362.3,425.4C365.98,425.77 372.42,425.97 379.3,426C386.18,426.03 397.65,425.88 403.6,425.6C409.55,425.32 411.95,424.85 415,424.3C418.05,423.75 420.07,422.93 421.9,422.3C423.73,421.67 424.73,421.25 426,420.5C427.27,419.75 428.37,418.97 429.5,417.8C430.63,416.63 431.63,415.05 432.8,413.5C433.97,411.95 435.3,410.08 436.5,408.5C437.7,406.92 438.58,406.17 440,404C441.42,401.83 443.33,398.28 445,395.5C446.67,392.72 448.55,389.88 450,387.3C451.45,384.72 452.55,382.1 453.7,380C454.85,377.9 455.83,376.47 456.9,374.7C457.97,372.93 459.03,371.18 460.1,369.4C461.17,367.62 462.23,365.6 463.3,364C464.37,362.4 465.43,361.03 466.5,359.8C467.57,358.57 468.63,357.58 469.7,356.6C470.77,355.62 471.93,354.88 472.9,353.9C473.87,352.92 474.7,351.85 475.5,350.7C476.3,349.55 477.07,348.32 477.7,347C478.33,345.68 478.77,344.4 479.3,342.8C479.83,341.2 480.38,339.18 480.9,337.4C481.42,335.62 481.78,334.53 482.4,332.1C483.02,329.67 483.73,326.58 484.6,322.8C485.47,319.02 486.73,312.75 487.6,309.4C488.47,306.05 489.07,304.32 489.8,302.7C490.53,301.08 491.25,299.95 492,299.7C492.75,299.45 493.55,299.83 494.3,301.2C495.05,302.57 495.77,305.05 496.5,307.9C497.23,310.75 497.95,314.33 498.7,318.3C499.45,322.27 500.25,326.98 501,331.7C501.75,336.42 502.6,342.88 503.2,346.6C503.8,350.32 504.1,351.45 504.6,354C505.1,356.55 505.57,358.6 506.2,361.9C506.83,365.2 507.53,369.58 508.4,373.8C509.27,378.02 510.4,383.47 511.4,387.2C512.4,390.93 513.28,393.72 514.4,396.2C515.52,398.68 516.73,400.62 518.1,402.1C519.47,403.58 521.12,404.57 522.6,405.1C524.08,405.63 525.38,406.05 527,405.3C528.62,404.55 530.4,402.67 532.3,400.6C534.2,398.53 536.37,395.58 538.4,392.9C540.43,390.22 542.47,386.8 544.5,384.5C546.53,382.2 548.55,380.43 550.6,379.1C552.65,377.77 554.75,376.87 556.8,376.5C558.85,376.13 560.87,376.47 562.9,376.9C564.93,377.33 566.97,378.35 569,379.1C571.03,379.85 573.05,380.63 575.1,381.4C577.15,382.17 579.5,383.18 581.3,383.7C583.1,384.22 584.62,384.5 585.9,384.5C587.18,384.5 588.48,383.83 589,383.7" stroke="#1414e6" stroke-width="2.2"/>
</g>
<rect x="54" y="9.6" width="232.2" height="178.6" fill="none" stroke="#2a2a2a" stroke-width="1.3"/>
<rect x="54" y="248.4" width="232.2" height="178.9" fill="none" stroke="#2a2a2a" stroke-width="1.3"/>
<rect x="357.2" y="9.4" width="231.6" height="178.6" fill="none" stroke="#2a2a2a" stroke-width="1.3"/>
<rect x="357" y="248.5" width="231.6" height="178.8" fill="none" stroke="#2a2a2a" stroke-width="1.3"/>
<path d="M271.5,105.1L242.1,110.2M247.4,106.2L242.1,110.2L248,112.9" stroke="#1a1a1a" stroke-width="1.2" fill="none"/>
<path d="M271.5,343.8L242.1,348.9M247.9,345L242.1,348.9L248.3,351.6" stroke="#1a1a1a" stroke-width="1.2" fill="none"/>
<path d="M366,172.6L401.4,172.6M395.2,169.2L401.4,172.6L395.4,175.8" stroke="#1a1a1a" stroke-width="1.2" fill="none"/>
<path d="M366,411.4L401.4,411.4M395.4,408.2L401.4,411.4L395.4,414.7" stroke="#1a1a1a" stroke-width="1.2" fill="none"/>
<g font-weight="bold" font-size="12.7" fill="#000" stroke="#000" stroke-width="0.4">
<text x="41.8" y="14.15" text-anchor="end">100</text>
<text x="41.8" y="32.01" text-anchor="end">80</text>
<text x="41.8" y="49.87" text-anchor="end">60</text>
<text x="41.8" y="67.73" text-anchor="end">40</text>
<text x="41.8" y="85.59" text-anchor="end">20</text>
<text x="41.8" y="103.45" text-anchor="end">0</text>
<text x="41.8" y="121.31" text-anchor="end">-20</text>
<text x="41.8" y="139.17" text-anchor="end">-40</text>
<text x="41.8" y="157.03" text-anchor="end">-60</text>
<text x="41.8" y="174.89" text-anchor="end">-80</text>
<text x="41.8" y="192.75" text-anchor="end">-100</text>
<text x="41.8" y="252.95" text-anchor="end">100</text>
<text x="41.8" y="270.84" text-anchor="end">80</text>
<text x="41.8" y="288.73" text-anchor="end">60</text>
<text x="41.8" y="306.62" text-anchor="end">40</text>
<text x="41.8" y="324.51" text-anchor="end">20</text>
<text x="41.8" y="342.4" text-anchor="end">0</text>
<text x="41.8" y="360.29" text-anchor="end">-20</text>
<text x="41.8" y="378.18" text-anchor="end">-40</text>
<text x="41.8" y="396.07" text-anchor="end">-60</text>
<text x="41.8" y="413.96" text-anchor="end">-80</text>
<text x="41.8" y="431.85" text-anchor="end">-100</text>
<text x="345.3" y="13.95" text-anchor="end">14</text>
<text x="345.3" y="39.46" text-anchor="end">12</text>
<text x="345.3" y="64.98" text-anchor="end">10</text>
<text x="345.3" y="90.49" text-anchor="end">8</text>
<text x="345.3" y="116.01" text-anchor="end">6</text>
<text x="345.3" y="141.52" text-anchor="end">4</text>
<text x="345.3" y="167.04" text-anchor="end">2</text>
<text x="345.3" y="192.55" text-anchor="end">0</text>
<text x="345.3" y="253.05" text-anchor="end">14</text>
<text x="345.3" y="278.59" text-anchor="end">12</text>
<text x="345.3" y="304.14" text-anchor="end">10</text>
<text x="345.3" y="329.68" text-anchor="end">8</text>
<text x="345.3" y="355.22" text-anchor="end">6</text>
<text x="345.3" y="380.76" text-anchor="end">4</text>
<text x="345.3" y="406.31" text-anchor="end">2</text>
<text x="345.3" y="431.85" text-anchor="end">0</text>
<text x="52.1" y="209" text-anchor="middle">-0.6</text>
<text x="88" y="209" text-anchor="middle">-0.4</text>
<text x="125" y="209" text-anchor="middle">-0.2</text>
<text x="158.6" y="209" text-anchor="middle">0.0</text>
<text x="191.3" y="209" text-anchor="middle">0.2</text>
<text x="223.3" y="209" text-anchor="middle">0.4</text>
<text x="255.7" y="209" text-anchor="middle">0.6</text>
<text x="287.2" y="209" text-anchor="middle">0.8</text>
<text x="52.1" y="447.8" text-anchor="middle">-0.6</text>
<text x="88" y="447.8" text-anchor="middle">-0.4</text>
<text x="125" y="447.8" text-anchor="middle">-0.2</text>
<text x="158.6" y="447.8" text-anchor="middle">0.0</text>
<text x="191.3" y="447.8" text-anchor="middle">0.2</text>
<text x="223.3" y="447.8" text-anchor="middle">0.4</text>
<text x="255.7" y="447.8" text-anchor="middle">0.6</text>
<text x="287.2" y="447.8" text-anchor="middle">0.8</text>
<text x="359.2" y="209" text-anchor="middle">0.2</text>
<text x="405.3" y="209" text-anchor="middle">0.4</text>
<text x="451.5" y="209" text-anchor="middle">0.6</text>
<text x="498.5" y="209" text-anchor="middle">0.8</text>
<text x="544.6" y="209" text-anchor="middle">1.0</text>
<text x="591.5" y="209" text-anchor="middle">1.2</text>
<text x="359.2" y="447.8" text-anchor="middle">0.2</text>
<text x="405.3" y="447.8" text-anchor="middle">0.4</text>
<text x="451.5" y="447.8" text-anchor="middle">0.6</text>
<text x="498.5" y="447.8" text-anchor="middle">0.8</text>
<text x="544.6" y="447.8" text-anchor="middle">1.0</text>
<text x="591.5" y="447.8" text-anchor="middle">1.2</text>
<text x="77.3" y="224.9" font-size="12.9">E (V) <tspan font-style="italic">vs</tspan> Ag pseudo−reference</text>
<text x="384.3" y="224.9" font-size="12.9">E (V) <tspan font-style="italic">vs</tspan> Ag pseudo−reference</text>
<text x="77.3" y="464.2" font-size="12.9">E (V) <tspan font-style="italic">vs</tspan> Ag pseudo−reference</text>
<text x="384.3" y="464.2" font-size="12.9">E (V) <tspan font-style="italic">vs</tspan> Ag pseudo−reference</text>
<text transform="translate(12.9,99.1) rotate(-90)" text-anchor="middle" font-size="12.4">I (µA)</text>
<text transform="translate(323,101.9) rotate(-90)" text-anchor="middle" font-size="12.4">I (µA)</text>
<text transform="translate(12.9,338.5) rotate(-90)" text-anchor="middle" font-size="12.4">I (µA)</text>
<text transform="translate(322.6,341) rotate(-90)" text-anchor="middle" font-size="12.4">I (µA)</text>
</g>
<g font-weight="bold" font-size="14" fill="#000" stroke="#000" stroke-width="0.3">
<text x="71.5" y="34.9">a</text>
<text x="378.6" y="36.2">b</text>
<text x="71.5" y="273.8">c</text>
<text x="378.6" y="273.8">d</text>
</g>
<g fill="#000">
<text x="72" y="55.4" font-size="14" stroke="#000" stroke-width="0.3">[Fe(CN)<tspan font-size="8.5" dy="3.5" dx="0.6">6</tspan><tspan dy="-3.5" dx="1.8">]</tspan><tspan font-size="9" dy="-5" dx="0.4" letter-spacing="1.1">3-/4-</tspan></text>
<text x="72" y="294.3" font-size="14" stroke="#000" stroke-width="0.3">[Fe(CN)<tspan font-size="8.5" dy="3.5" dx="0.6">6</tspan><tspan dy="-3.5" dx="1.8">]</tspan><tspan font-size="9" dy="-5" dx="0.4" letter-spacing="1.1">3-/4-</tspan></text>
<text x="378" y="55.7" font-size="14" stroke="#000" stroke-width="0.3">SMX</text>
<text x="378" y="293.8" font-size="14" stroke="#000" stroke-width="0.3">SMX</text>
</g>
<g font-weight="bold" font-size="10.7" fill="#000">
<line x1="607.3" y1="57.3" x2="631.8" y2="57.3" stroke="#000000" stroke-width="1.8"/>
<line x1="607.3" y1="77.8" x2="631.8" y2="77.8" stroke="#1414e6" stroke-width="1.8"/>
<line x1="607.3" y1="103.3" x2="631.8" y2="103.3" stroke="#14e614" stroke-width="1.8"/>
<line x1="607.3" y1="135.2" x2="631.8" y2="135.2" stroke="#f01010" stroke-width="1.8"/>
<text x="639" y="60.6" stroke="#000" stroke-width="0.35">SPCE unmodified</text>
<text x="639" y="81.3" stroke="#000" stroke-width="0.35">SPCE/MOF Ti</text>
<text x="639" y="101.6" stroke="#000" stroke-width="0.35">SPCE/Diazotization</text>
<text x="639" y="113.5" stroke="#000" stroke-width="0.35">MOF Ti</text>
<text x="639" y="133.1" stroke="#000" stroke-width="0.35">SPCE/Diazotization</text>
<text x="639" y="145" stroke="#000" stroke-width="0.35">ATA</text>
</g>
<g font-weight="bold" font-size="10.7" fill="#000">
<line x1="606.1" y1="303.5" x2="630.6" y2="303.5" stroke="#000000" stroke-width="1.8"/>
<line x1="606.1" y1="324" x2="630.6" y2="324" stroke="#1414e6" stroke-width="1.8"/>
<line x1="606.1" y1="349.5" x2="630.6" y2="349.5" stroke="#14e614" stroke-width="1.8"/>
<line x1="606.1" y1="381.4" x2="630.6" y2="381.4" stroke="#f01010" stroke-width="1.8"/>
<text x="637.8" y="306.8" stroke="#000" stroke-width="0.35">SPCE unmodified</text>
<text x="637.8" y="327.5" stroke="#000" stroke-width="0.35">SPCE/MOF Fe</text>
<text x="637.8" y="347.8" stroke="#000" stroke-width="0.35">SPCE/Diazotization</text>
<text x="637.8" y="359.7" stroke="#000" stroke-width="0.35">MOF Fe</text>
<text x="637.8" y="379.3" stroke="#000" stroke-width="0.35">SPCE/Diazotization</text>
<text x="637.8" y="391.2" stroke="#000" stroke-width="0.35">ATA</text>
</g>
</svg></body></html>
